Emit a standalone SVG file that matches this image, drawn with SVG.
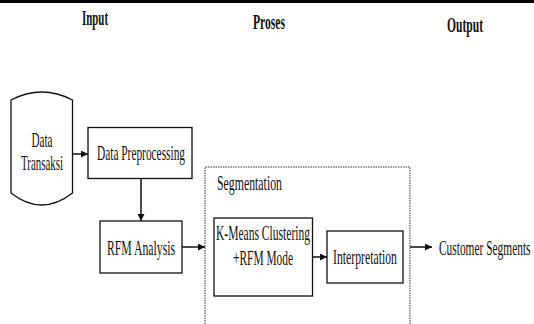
<svg xmlns="http://www.w3.org/2000/svg" width="534" height="324" viewBox="0 0 534 324">
  <style>
    .t { font-family: "Liberation Serif", "Times New Roman", serif; font-size: 21px; fill: #111; }
    .h { font-family: "Liberation Serif", "Times New Roman", serif; font-size: 20px; font-weight: bold; fill: #111; }
    .box { fill: #fff; stroke: #111; stroke-width: 1.3; }
    .conn { stroke: #111; stroke-width: 1.5; fill: none; }
  </style>
  <defs>
    <marker id="ah" markerUnits="userSpaceOnUse" markerWidth="8" markerHeight="8" refX="7" refY="3.5" orient="auto">
      <path d="M0,0 L7,3.5 L0,7 Z" fill="#111"/>
    </marker>
  </defs>
  <rect x="0" y="0" width="534" height="324" fill="#fff"/>
  <line x1="0" y1="1.5" x2="534" y2="1.5" stroke="#000" stroke-width="3"/>
  <g id="headers">
    <text class="h" x="82" y="25" textLength="26" lengthAdjust="spacingAndGlyphs">Input</text>
    <text class="h" x="253" y="29" textLength="32" lengthAdjust="spacingAndGlyphs">Proses</text>
    <text class="h" x="447" y="32" textLength="36" lengthAdjust="spacingAndGlyphs">Output</text>
  </g>
  <g id="segmentation">
    <path d="M205,324 V167 H410 V324" fill="none" stroke="#333" stroke-width="1" stroke-dasharray="1.5,1"/>
    <text class="t" x="217" y="190" textLength="65" lengthAdjust="spacingAndGlyphs">Segmentation</text>
  </g>
  <g id="data-transaksi">
    <path d="M11,100 Q41.75,84 72.5,100 L72.5,193 Q41.75,217 11,193 Z" class="box"/>
    <text class="t" x="42" y="147" text-anchor="middle" textLength="21" lengthAdjust="spacingAndGlyphs">Data</text>
    <text class="t" x="42" y="170" text-anchor="middle" textLength="42" lengthAdjust="spacingAndGlyphs">Transaksi</text>
  </g>
  <g id="data-preprocessing">
    <rect class="box" x="88" y="127.5" width="104" height="51"/>
    <text class="t" x="141" y="160" text-anchor="middle" textLength="88" lengthAdjust="spacingAndGlyphs">Data Preprocessing</text>
  </g>
  <g id="rfm-analysis">
    <rect class="box" x="100" y="221" width="82" height="52" stroke="#333" stroke-width="1.6"/>
    <text class="t" x="141" y="255" text-anchor="middle" textLength="68" lengthAdjust="spacingAndGlyphs">RFM Analysis</text>
  </g>
  <g id="kmeans">
    <rect class="box" x="214" y="218" width="98.5" height="78"/>
    <text class="t" x="263" y="239.5" text-anchor="middle" textLength="94" lengthAdjust="spacingAndGlyphs">K-Means Clustering</text>
    <text class="t" x="263" y="265" text-anchor="middle" textLength="60" lengthAdjust="spacingAndGlyphs">+RFM Mode</text>
  </g>
  <g id="interpretation">
    <rect class="box" x="327" y="231" width="76" height="52"/>
    <text class="t" x="365" y="264" text-anchor="middle" textLength="64" lengthAdjust="spacingAndGlyphs">Interpretation</text>
  </g>
  <g id="customer-segments" transform="translate(439,255) scale(0.545,1)">
    <text class="t" x="0" y="0" textLength="168" lengthAdjust="spacingAndGlyphs">Customer Segments</text>
  </g>
  <g id="connectors">
    <line class="conn" x1="72.5" y1="154" x2="88" y2="154" marker-end="url(#ah)"/>
    <line class="conn" x1="141" y1="178.5" x2="141" y2="221" stroke="#808080" marker-end="url(#ah)"/>
    <line class="conn" x1="182" y1="247" x2="205" y2="247" marker-end="url(#ah)"/>
    <line class="conn" x1="312.5" y1="257" x2="327" y2="257" marker-end="url(#ah)"/>
    <line class="conn" x1="410" y1="247" x2="432" y2="247" marker-end="url(#ah)"/>
  </g>
</svg>
